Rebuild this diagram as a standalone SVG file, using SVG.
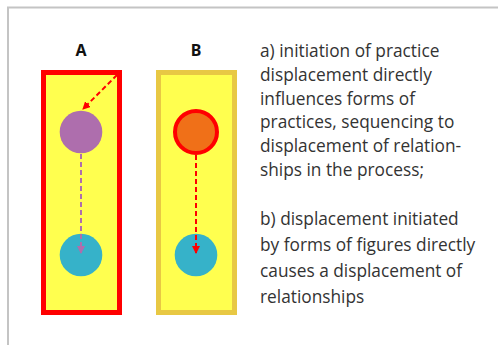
<svg xmlns="http://www.w3.org/2000/svg" width="498" height="345" viewBox="0 0 498 345">
<defs>
<style>
.lbl{font-family:"Noto Sans","Open Sans",sans-serif;font-weight:bold;font-size:16px;fill:#111;text-anchor:middle}
.txt{font-family:"Open Sans","Noto Sans",sans-serif;font-size:17.3px;fill:#333}
.dash{fill:none;stroke-width:2;stroke-dasharray:5 3}
</style>
<marker id="ahR" markerWidth="8" markerHeight="8" refX="7" refY="4" orient="auto" markerUnits="userSpaceOnUse"><path d="M0,0 L8,4 L0,8 Z" fill="#ff0000"/></marker>
<marker id="ahP" markerWidth="8" markerHeight="8" refX="7" refY="4" orient="auto" markerUnits="userSpaceOnUse"><path d="M0,0 L8,4 L0,8 Z" fill="#ae6ead"/></marker>
</defs>
<rect width="498" height="345" fill="#fff"/>
<path d="M8,345 L8,7.5 L498,7.5" fill="none" stroke="#c4c4c4" stroke-width="2"/>
<g id="boxA"><rect x="43.5" y="72.5" width="76" height="240" fill="#ffff4f" stroke="#ff0000" stroke-width="5"/></g>
<g id="boxB"><rect x="158.5" y="72.5" width="76" height="240" fill="#ffff4f" stroke="#e8c844" stroke-width="5"/></g>
<g id="labelA"><text class="lbl" x="81" y="56">A</text></g>
<g id="labelB"><text class="lbl" x="196" y="56">B</text></g>
<g id="nodeA1"><circle cx="81" cy="132" r="21.3" fill="#ae6ead"/></g>
<g id="nodeA2"><circle cx="81" cy="255" r="21.3" fill="#36b2c9"/></g>
<g id="nodeB1"><circle cx="196" cy="132" r="21" fill="#f07018" stroke="#ff0000" stroke-width="4"/></g>
<g id="nodeB2"><circle cx="196" cy="255" r="21.3" fill="#36b2c9"/></g>
<g id="connectors">
<path class="dash" d="M117,75 L83,109" stroke="#ff0000" marker-end="url(#ahR)"/>
<path class="dash" d="M81,154 L81,253" stroke="#ae6ead" marker-end="url(#ahP)"/>
<path class="dash" d="M196,155 L196,253" stroke="#ff0000" marker-end="url(#ahR)"/>
</g>
<g id="textA">
<text class="txt" x="260" y="57">a) initiation of practice</text>
<text class="txt" x="260" y="81">displacement directly</text>
<text class="txt" x="260" y="105">influences forms of</text>
<text class="txt" x="260" y="128">practices, sequencing to</text>
<text class="txt" x="260" y="152">displacement of relation-</text>
<text class="txt" x="260" y="176">ships in the process;</text>
</g>
<g id="textB">
<text class="txt" x="260" y="225">b) displacement initiated</text>
<text class="txt" x="260" y="251">by forms of figures directly</text>
<text class="txt" x="260" y="277">causes a displacement of</text>
<text class="txt" x="260" y="303">relationships</text>
</g>
</svg>
